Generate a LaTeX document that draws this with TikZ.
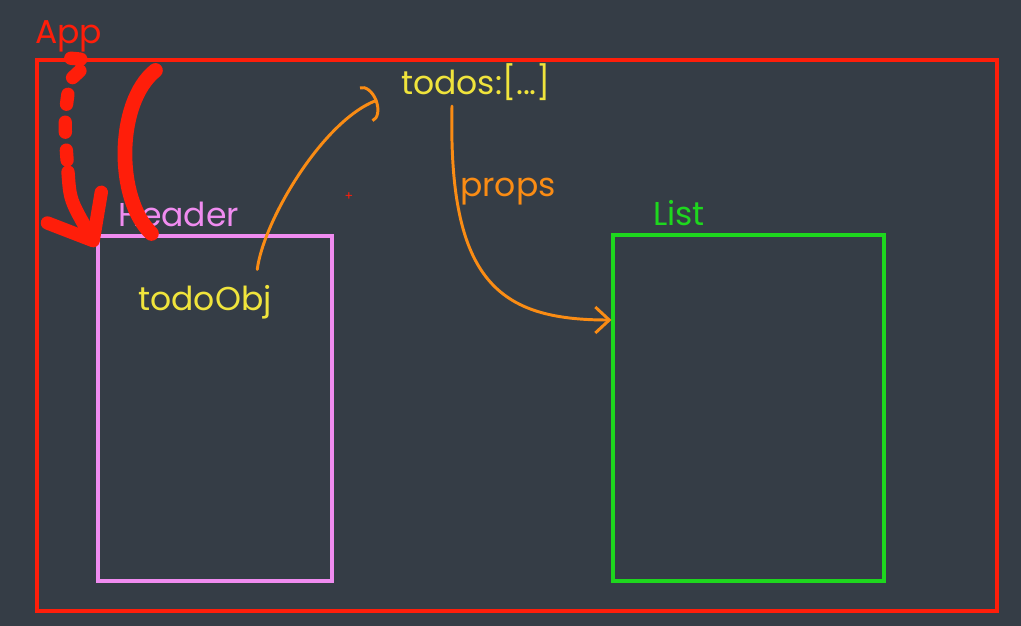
\documentclass[tikz,border=0pt]{standalone}
\usepackage{fontspec}
\setmainfont{Poppins}
\usetikzlibrary{arrows.meta,positioning}
\definecolor{board}{RGB}{53,61,70}
\definecolor{penred}{RGB}{255,30,10}
\definecolor{penorange}{RGB}{250,140,20}
\definecolor{penyellow}{RGB}{240,228,60}
\definecolor{penpink}{RGB}{240,140,240}
\definecolor{pengreen}{RGB}{30,215,30}
\tikzstyle{comp}=[rectangle,draw,line width=2.2pt,inner sep=0pt]
\tikzstyle{lbl}=[inner sep=1pt,font=\fontsize{23.5}{28}\selectfont]
\tikzstyle{pen}=[penorange,line width=2.1pt,line cap=round]
\tikzstyle{marker}=[penred,line width=9.5pt,line cap=round]

\begin{document}
\begin{tikzpicture}
\useasboundingbox (0,0) rectangle (25.525,-15.65);
\fill[board] (0,0) rectangle (25.525,-15.65);
% component boxes
\node[comp,draw=penred,minimum width=24cm,minimum height=13.775cm] (app) at (12.925,-8.3875) {};
\node[comp,draw=penpink,minimum width=5.85cm,minimum height=8.625cm] (header) at (5.375,-10.2125) {};
\node[comp,draw=pengreen,minimum width=6.775cm,minimum height=8.65cm] (list) at (18.7125,-10.2) {};
% labels
\node[lbl,penred] (applbl) at (1.72,-0.92) {App};
\node[lbl,penpink,above right=0.15cm and 0.5cm of header.north west] (headerlbl) {Header};
\node[lbl,pengreen,above right=0.15cm and 1.0cm of list.north west] (listlbl) {List};
\node[lbl,penyellow] (todos) at (11.9,-2.05) {todos:[...]};
\node[lbl,penyellow] (todoobj) at (5.125,-7.55) {todoObj};
\node[lbl,penorange] (props) at (12.7,-4.8) {props};
\node[penred,font=\small] (cursor) at (8.725,-4.925) {+};
% orange arrows
\draw[pen,-{Arc Barb[length=0.3cm,width=0.95cm]}] ([xshift=-0.4cm,yshift=0.35cm]todoobj.north east)
  .. controls +(0.15,1.2) and +(-1.375,-0.525) .. ([xshift=-0.55cm,yshift=-0.45cm]todos.west);
\draw[pen,-{Straight Barb[length=0.35cm,width=0.65cm]}] ([xshift=-0.6cm,yshift=-0.1cm]todos.south)
  .. controls +(-0.1,-4.4) and +(-2.8,0) .. ([yshift=2.2cm]list.west);
% red marker strokes
\draw[marker,line width=10.5pt] ([xshift=3.0cm,yshift=-0.3cm]app.north west)
  .. controls +(-1.0,-0.8) and +(-0.9,0.85) .. ([xshift=1.375cm,yshift=0.025cm]header.north west);
\coordinate (dotend) at (1.7,-4.3);
\draw[marker,dash pattern=on 0.25cm off 0.45cm] ([xshift=0.05cm,yshift=-0.1cm]applbl.south)
  .. controls (2.3,-1.5) .. (1.75,-2.0) .. controls (1.6,-3) .. (dotend);
\draw[marker,-{Straight Barb[length=0.95cm,width=1.55cm,round]}] (dotend)
  .. controls (1.75,-5.0) .. ([yshift=-0.3cm]header.north west);
\end{tikzpicture}
\end{document}
